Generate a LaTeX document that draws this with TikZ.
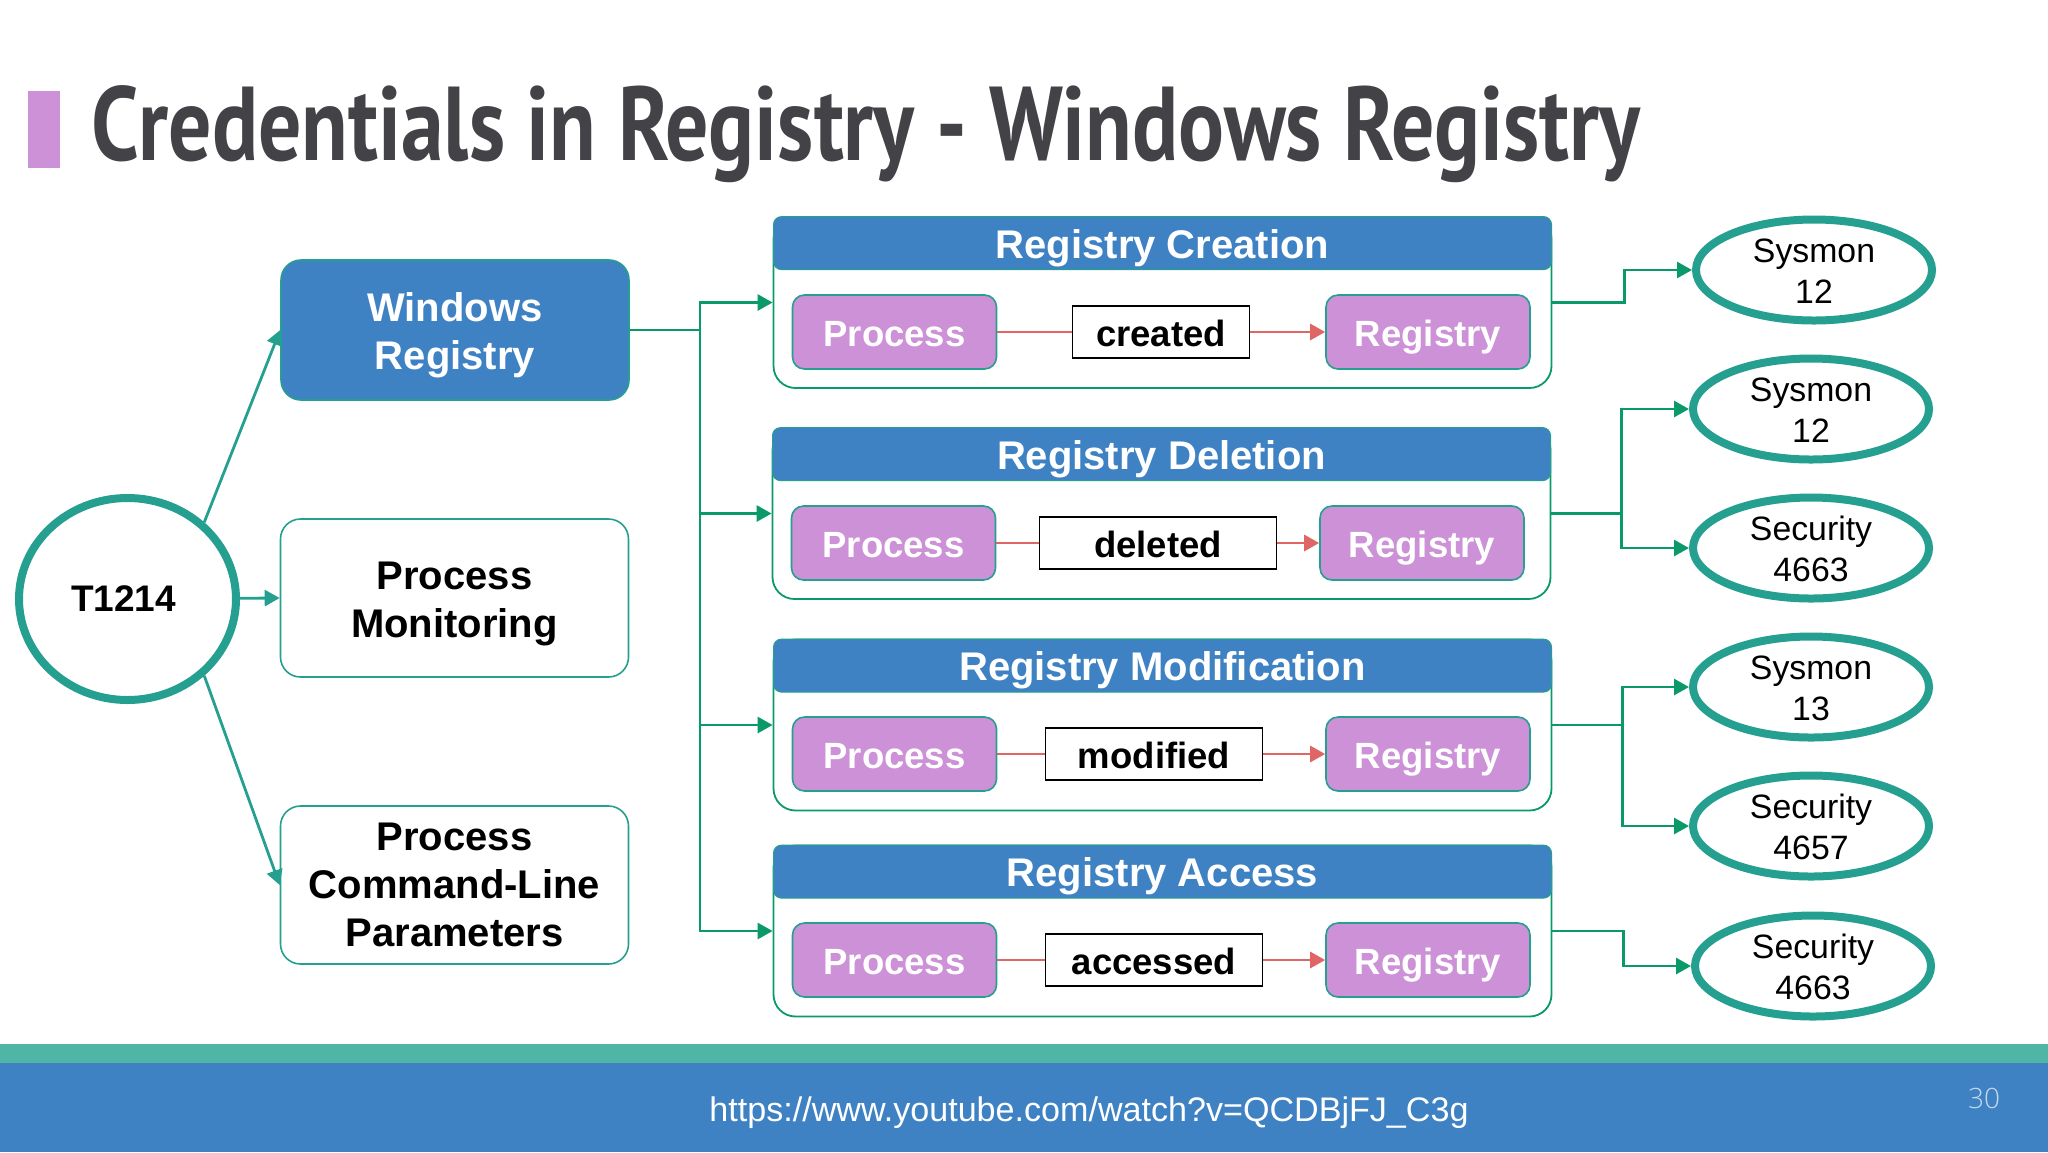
\documentclass[tikz,border=0pt]{standalone}
\usepackage{fontspec}
\setmainfont{Liberation Sans}
\newfontfamily\titlefont{PT Sans}[UprightFont=* Bold,FakeStretch=0.816]
\newfontfamily\numfont{Open Sans}[UprightFont=* Light]
\usetikzlibrary{arrows.meta,shapes.geometric}
\definecolor{barblue}{HTML}{3F82C4}
\definecolor{barteal}{HTML}{4FB5A5}
\definecolor{edgeteal}{HTML}{259F8F}
\definecolor{busgreen}{HTML}{0A9A6A}
\definecolor{boxpurple}{HTML}{CC91D6}
\definecolor{redline}{HTML}{E06666}
\definecolor{titlegray}{HTML}{434246}
\definecolor{pagenum}{HTML}{C4D8EC}
\begin{document}
\begin{tikzpicture}[x=0.5pt,y=-0.5pt,>={Triangle[length=7.5pt,width=8pt]},
    main node/.style={draw=edgeteal,line width=0.8pt,rounded corners=10pt,fill=white,align=center,inner sep=0pt,minimum width=174pt,minimum height=79pt,font=\fontsize{20}{24}\selectfont\bfseries},
    group node/.style={draw=busgreen,line width=0.9pt,rounded corners=11pt,fill=white,inner sep=0pt,minimum width=389pt,minimum height=85.5pt},
    head node/.style={draw=edgeteal,line width=0.5pt,rounded corners=4pt,fill=barblue,text=white,anchor=north,inner sep=0pt,minimum width=389pt,minimum height=26.5pt,text height=15pt,text depth=0pt,font=\fontsize{20}{24}\selectfont\bfseries},
    part node/.style={draw=edgeteal,line width=0.8pt,rounded corners=6pt,fill=boxpurple,text=white,inner sep=0pt,minimum width=102pt,minimum height=37pt,text height=14.3pt,text depth=0pt,font=\fontsize{18.25}{22}\selectfont\bfseries},
    verb node/.style={draw=black,line width=0.8pt,fill=white,inner sep=0pt,minimum height=26pt,text height=14pt,text depth=0pt,font=\fontsize{18.25}{22}\selectfont\bfseries},
    log node/.style={ellipse,draw=edgeteal,line width=4pt,fill=white,align=center,inner sep=0pt,minimum width=118pt,minimum height=50.5pt,font=\fontsize{16.9}{20.3}\selectfont},
    teal line/.style={color=edgeteal,line width=1.4pt},
    green line/.style={color=busgreen,line width=1.4pt},
    red line/.style={color=redline,line width=1.4pt}]
    \useasboundingbox (0,0) rectangle (2048,1152);
    % title and footer
    \fill[boxpurple] (28,91) rectangle (60,168);
    \node[anchor=base west,inner sep=0pt,text=titlegray,font=\titlefont\fontsize{52.5}{60}\selectfont] (title) at (91,160) {Credentials in Registry - Windows Registry};
    \fill[barteal] (0,1044) rectangle (2048,1063);
    \fill[barblue] (0,1063) rectangle (2048,1152);
    \node[text=white,font=\fontsize{17.05}{20}\selectfont] (url) at (1089,1113) {https://www.youtube.com/watch?v=QCDBjFJ\_C3g};
    \node[text=pagenum,font=\numfont\fontsize{14}{16}\selectfont] (page) at (1984,1098) {30};
    % left column
    \node[ellipse,draw=edgeteal,line width=4pt,inner sep=0pt,minimum width=108.5pt,minimum height=101pt,font=\fontsize{18.5}{22}\selectfont\bfseries] (t1214) at (127.5,599) {T1214\hspace*{4pt}};
    \node[main node,fill=barblue,text=white,minimum height=70pt] (winreg) at (455,330) {\rule{0pt}{19.5pt}Windows\\Registry};
    \node[main node] (monitor) at (454.5,598) {\rule{0pt}{20pt}Process\\Monitoring};
    \node[main node] (cmdline) [below of=monitor,node distance=143.5pt] {Process\\Command-Line\\Parameters};
    % registry groups
    \node[group node] (c1) at (1162.5,302.5) {};
    \node[head node] (h1) at (c1.north) {Registry Creation};
    \node[part node] (p1) [below of=c1,node distance=14.75pt,xshift=-134pt] {Process};
    \node[verb node,minimum width=88.5pt] (v1) [right of=p1,node distance=133.25pt] {created};
    \node[part node] (r1) [right of=p1,node distance=266.75pt] {Registry};
    \node[group node] (c2) at (1161.5,513.5) {};
    \node[head node] (h2) at (c2.north) {Registry Deletion};
    \node[part node] (p2) [below of=c2,node distance=14.75pt,xshift=-134pt] {Process};
    \node[verb node,minimum width=118.5pt] (v2) [right of=p2,node distance=132.25pt] {deleted};
    \node[part node] (r2) [right of=p2,node distance=264.25pt] {Registry};
    \node[group node] (c3) at (1162.5,725) {};
    \node[head node] (h3) at (c3.north) {Registry Modification};
    \node[part node] (p3) [below of=c3,node distance=14.5pt,xshift=-134pt] {Process};
    \node[verb node,minimum width=108.5pt] (v3) [right of=p3,node distance=129.75pt] {modified};
    \node[part node] (r3) [right of=p3,node distance=266.75pt] {Registry};
    \node[group node] (c4) at (1162.5,931) {};
    \node[head node] (h4) at (c4.north) {Registry Access};
    \node[part node] (p4) [below of=c4,node distance=14.5pt,xshift=-134pt] {Process};
    \node[verb node,minimum width=108.5pt] (v4) [right of=p4,node distance=129.75pt] {accessed};
    \node[part node] (r4) [right of=p4,node distance=266.75pt] {Registry};
    % event logs
    \node[log node] (e1) at (1814,270) {\rule{0pt}{13pt}Sysmon\\12};
    \node[log node] (e2) at (1811,409) {\rule{0pt}{13pt}Sysmon\\12};
    \node[log node] (e3) [below of=e2,node distance=69.5pt] {\rule{0pt}{13pt}Security\\4663};
    \node[log node] (e4) [below of=e3,node distance=69.5pt] {\rule{0pt}{13pt}Sysmon\\13};
    \node[log node] (e5) [below of=e4,node distance=69.5pt] {\rule{0pt}{13pt}Security\\4657};
    \node[log node] (e6) at (1813,966) {\rule{0pt}{13pt}Security\\4663};
    \coordinate (bus) at (700,330);
    % connectors
    \path
    (t1214.45) edge[teal line,->] (winreg.west)
    (t1214) edge[teal line,->] (monitor.west)
    (t1214.-45) edge[teal line,->] (cmdline.west);
    \draw[green line,->] (winreg.east) -- (bus) |- (c1.west);
    \draw[green line,->] (bus) |- (c2.west);
    \draw[green line,->] (bus) |- (c3.west);
    \draw[green line,->] (bus) |- (c4.west);
    \draw[green line,->] (c1.east) -- ++(72,0) |- (e1.west);
    \draw[green line,->] (c2.east) -- ++(70,0) |- (e2.west);
    \draw[green line,->] (c2.east) -- ++(70,0) |- (e3.west);
    \draw[green line,->] (c3.east) -- ++(70,0) |- (e4.west);
    \draw[green line,->] (c3.east) -- ++(70,0) |- (e5.west);
    \draw[green line,->] (c4.east) -- ++(71,0) |- (e6.west);
    \path
    (p1) edge[red line] (v1) (p2) edge[red line] (v2)
    (p3) edge[red line] (v3) (p4) edge[red line] (v4);
    \path
    (v1) edge[red line,->] (r1) (v2) edge[red line,->] (r2)
    (v3) edge[red line,->] (r3) (v4) edge[red line,->] (r4);
\end{tikzpicture}
\end{document}
